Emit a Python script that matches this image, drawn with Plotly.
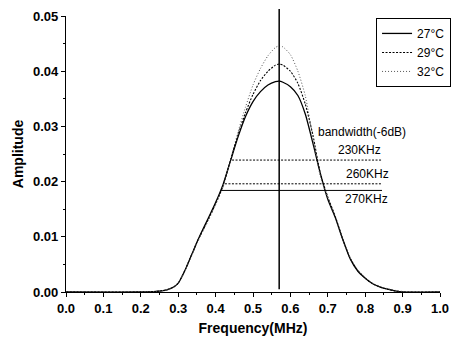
import plotly.graph_objects as go

freq = [0.0, 0.20, 0.24, 0.27, 0.29, 0.30, 0.31, 0.32, 0.33, 0.34, 0.35, 0.36, 0.38, 0.40,
        0.42, 0.44, 0.46, 0.48, 0.50, 0.52, 0.54, 0.56, 0.57, 0.58, 0.60, 0.62, 0.64,
        0.66, 0.68, 0.70, 0.72, 0.74, 0.76, 0.78, 0.80, 0.82, 0.84, 0.86, 0.88, 0.90, 1.0]
amp_27 = [0.0, 0.0, 0.0001, 0.0004, 0.0010, 0.0016, 0.0028, 0.0042, 0.0058, 0.0074, 0.0090, 0.0105, 0.0133, 0.0162,
          0.0195, 0.0238, 0.0281, 0.0318, 0.0345, 0.0363, 0.0375, 0.0381, 0.0382, 0.0380, 0.0372, 0.0356, 0.0322,
          0.0270, 0.0215, 0.0168, 0.0135, 0.0095, 0.0060, 0.0038, 0.0025, 0.0015, 0.0009, 0.0005, 0.0002, 0.0, 0.0]
amp_29 = [0.0, 0.0, 0.0001, 0.0004, 0.0010, 0.0016, 0.0028, 0.0042, 0.0058, 0.0074, 0.0090, 0.0104, 0.0131, 0.0160,
          0.0192, 0.0240, 0.0285, 0.0325, 0.0358, 0.0383, 0.0400, 0.0411, 0.0413, 0.0411, 0.0400, 0.0378, 0.0340,
          0.0285, 0.0215, 0.0172, 0.0137, 0.0096, 0.0061, 0.0039, 0.0025, 0.0015, 0.0009, 0.0005, 0.0002, 0.0, 0.0]
amp_32 = [0.0, 0.0, 0.0001, 0.0004, 0.0010, 0.0016, 0.0027, 0.0041, 0.0056, 0.0072, 0.0088, 0.0102, 0.0129, 0.0158,
          0.0190, 0.0240, 0.0290, 0.0335, 0.0375, 0.0405, 0.0428, 0.0443, 0.0446, 0.0444, 0.0430, 0.0400, 0.0355,
          0.0280, 0.0210, 0.0170, 0.0137, 0.0097, 0.0062, 0.0040, 0.0026, 0.0016, 0.0010, 0.0006, 0.0003, 0.0001, 0.0]

center_freq = 0.57
bw_levels = [0.0239, 0.0196, 0.0184]
bw_start = [0.444, 0.425, 0.414]
bw_end = [0.845, 0.845, 0.845]
bw_dash = ["dot", "dot", "solid"]
bw_labels = ["230KHz", "260KHz", "270KHz"]
bw_label_x = [0.785, 0.805, 0.803]
bw_label_y = [0.0257, 0.0214, 0.0168]

x_ticks = [i / 10 for i in range(11)]
x_ticktext = [f"<b>{v:.1f}</b>" for v in x_ticks]
y_ticks = [i / 100 for i in range(6)]
y_ticktext = [f"<b>{v:.2f}</b>" for v in y_ticks]

fig = go.Figure()
fig.add_trace(go.Scatter(x=freq, y=amp_27, mode="lines", name="27°C",
                         line=dict(color="black", width=1.3, shape="spline", smoothing=0.6)))
fig.add_trace(go.Scatter(x=freq, y=amp_29, mode="lines", name="29°C",
                         line=dict(color="black", width=1.1, dash="2px,1.5px", shape="spline", smoothing=0.6)))
fig.add_trace(go.Scatter(x=freq, y=amp_32, mode="lines", name="32°C",
                         line=dict(color="#555555", width=1, dash="1px,2px", shape="spline", smoothing=0.6)))

for lv, s, e, d in zip(bw_levels, bw_start, bw_end, bw_dash):
    fig.add_trace(go.Scatter(x=[s, e], y=[lv, lv], mode="lines", showlegend=False,
                             line=dict(color="black", width=1, dash="2px,1.5px" if d == "dot" else "solid")))

fig.add_shape(type="line", xref="x", yref="paper", x0=center_freq, x1=center_freq, y0=0.01, y1=1.025,
              line=dict(color="black", width=1.5))

annfont = dict(family="Liberation Sans, Arial", size=12, color="black")
fig.add_annotation(x=0.791, y=0.029, text="bandwidth(-6dB)", showarrow=False, font=annfont)
for t, x, y in zip(bw_labels, bw_label_x, bw_label_y):
    fig.add_annotation(x=x, y=y, text=t, showarrow=False, font=annfont)

tickfont = dict(family="Liberation Sans, Arial", size=13, color="black")
titlefont = dict(family="Liberation Sans, Arial", size=14, color="black")

fig.update_layout(
    width=451, height=345,
    margin=dict(l=66, r=11, t=16, b=53, autoexpand=False),
    paper_bgcolor="white", plot_bgcolor="white",
    showlegend=True,
    legend=dict(x=0.829, y=0.993, xanchor="left", yanchor="top",
                bordercolor="black", borderwidth=1, bgcolor="white",
                font=dict(family="Liberation Sans, Arial", size=12, color="black"),
                itemwidth=30, tracegroupgap=0),
    xaxis=dict(range=[0, 1], tickmode="array", tickvals=x_ticks, ticktext=x_ticktext,
               showgrid=False, zeroline=False, showline=True, linecolor="black", linewidth=1.2,
               ticks="outside", ticklen=4, tickwidth=1.2, tickcolor="black", tickfont=tickfont,
               minor=dict(tickvals=[i / 20 for i in range(1, 20, 2)], ticks="outside", ticklen=2, tickcolor="black"),
               title=dict(text="<b>Frequency(MHz)</b>", font=titlefont, standoff=8)),
    yaxis=dict(range=[0, 0.05], tickmode="array", tickvals=y_ticks, ticktext=y_ticktext,
               showgrid=False, zeroline=False, showline=True, linecolor="black", linewidth=1.2,
               ticks="outside", ticklen=4, tickwidth=1.2, tickcolor="black", tickfont=tickfont,
               minor=dict(tickvals=[i / 200 for i in range(1, 10, 2)], ticks="outside", ticklen=2, tickcolor="black"),
               title=dict(text="<b>Amplitude</b>", font=titlefont, standoff=6)),
)

fig.write_html("out.html")
